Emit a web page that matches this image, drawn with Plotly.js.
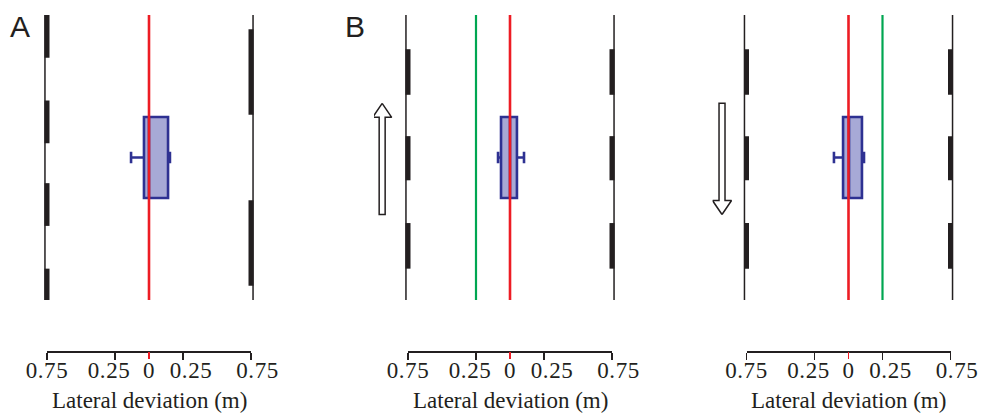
<!DOCTYPE html>
<html><head><meta charset="utf-8">
<script src="https://cdn.plot.ly/plotly-3.0.1.min.js"></script>
<style>html,body{margin:0;padding:0;background:#fff}#chart{width:996px;height:414px}
.x10tick text,.x11tick text,.x12tick text{letter-spacing:0.6px}</style>
</head><body><div id="chart"></div>
<script>
// ---- data ----
const panelLabels = ['A', 'B', ''];
const tickVals = [-0.75, -0.25, 0.25, 0.75];
const zeroTickVals = [0];
const labelPos = [-0.75, -0.294, 0, 0.309, 0.798];   // where the label texts sit (m)
const labelText = ['0.75', '0.25', '0', '0.25', '0.75'];
const axisTitle = 'Lateral deviation (m)';
const laneHalfWidth = 0.75;               // lane boundary (m)
const boxPos = [50, 50, 50];              // vertical position (arbitrary units, 0-100)
const boxLower = [-0.132, -0.088, -0.107];
const boxQ1 = [-0.037, -0.066, -0.040];
const boxMedian = [0.000, 0.000, 0.004];
const boxQ3 = [0.140, 0.051, 0.099];
const boxUpper = [0.154, 0.103, 0.114];
const redLineX = [0, 0, 0];
const greenLineX = [null, -0.25, 0.25];
const leftDashes = [
  [[85, 100], [55, 70], [26, 41], [0, 11]],
  [[72, 88], [42, 57.5], [11, 27]],
  [[72, 88], [42, 57.5], [11, 27]]
];
const rightDashes = [
  [[65, 95], [5, 35]],
  [[72, 88], [42, 57.5], [11, 27]],
  [[72, 88], [42, 57.5], [11, 27]]
];
const arrowX = [null, -0.94, -0.93];
const arrowTail = [null, 30, 69];
const arrowTip = [null, 69, 30];

// ---- layout geometry ----
const W = 996, H = 414;
const zeroPx = [149, 510, 848.5];
const pxPerM = 136;
const dark = '#231f20';
const serif = 'Liberation Serif, Times New Roman, serif';

const traces = [];
const layout = {
  width: W, height: H,
  margin: {l: 0, r: 0, t: 15, b: 63},
  paper_bgcolor: '#fff', plot_bgcolor: 'rgba(0,0,0,0)',
  showlegend: false,
  yaxis: {domain: [51 / 336, 1], range: [0, 100], visible: false, fixedrange: true},
  annotations: []
};

function segs(list, x) {
  const xs = [], ys = [];
  list.forEach(s => { xs.push(x, x, null); ys.push(s[0], s[1], null); });
  return {xs, ys};
}

for (let p = 0; p < 3; p++) {
  const dataAx = p + 1, tickAx = p + 4, zeroAx = p + 7, labAx = p + 10;
  const z = zeroPx[p];
  const xa = dataAx === 1 ? 'x' : 'x' + dataAx;
  const dataDomain = [(z - pxPerM) / W, (z + pxPerM) / W];
  layout['xaxis' + (dataAx === 1 ? '' : dataAx)] = {
    domain: dataDomain, range: [-1, 1], visible: false, anchor: 'y', fixedrange: true
  };
  const common = {
    anchor: 'free', position: 0, showgrid: false, zeroline: false,
    ticks: 'outside', ticklen: 7, tickwidth: 1.5, tickmode: 'array', fixedrange: true
  };
  const tickDomain = [(z - 0.75 * pxPerM) / W, (z + 0.75 * pxPerM) / W];
  layout['xaxis' + tickAx] = Object.assign({}, common, {
    domain: tickDomain, range: [-0.75, 0.75],
    showline: true, linecolor: dark, linewidth: 1.5, tickcolor: dark,
    tickvals: tickVals, showticklabels: false
  });
  layout['xaxis' + zeroAx] = Object.assign({}, common, {
    domain: tickDomain, range: [-0.75, 0.75], overlaying: 'x' + tickAx,
    showline: false, tickcolor: '#ed1c24', tickvals: zeroTickVals, showticklabels: false
  });
  layout['xaxis' + labAx] = Object.assign({}, common, {
    domain: dataDomain, range: [-1, 1], showline: false, tickcolor: 'rgba(0,0,0,0)',
    tickvals: labelPos, ticktext: labelText, ticklabelstandoff: -9,
    tickfont: {family: serif, size: 23, color: dark}
  });
  // invisible traces to register the axis-only subplots
  [tickAx, zeroAx, labAx].forEach(a => traces.push({
    type: 'scatter', mode: 'markers', x: [0], y: [-50], xaxis: 'x' + a, yaxis: 'y',
    marker: {opacity: 0}, hoverinfo: 'skip'
  }));

  // thin lane boundaries
  [-1, 1].forEach(sg => traces.push({
    type: 'scatter', mode: 'lines', xaxis: xa, yaxis: 'y',
    x: [sg * (laneHalfWidth + 0.015), sg * (laneHalfWidth + 0.015)], y: [0, 100],
    line: {color: dark, width: 1.5}, hoverinfo: 'skip'
  }));
  // thick dashes
  [[leftDashes[p], -1], [rightDashes[p], 1]].forEach(([list, sg]) => {
    const s = segs(list, sg * laneHalfWidth);
    traces.push({type: 'scatter', mode: 'lines', xaxis: xa, yaxis: 'y', x: s.xs, y: s.ys,
      line: {color: dark, width: 5}, hoverinfo: 'skip'});
  });
  // green line
  if (greenLineX[p] !== null) traces.push({
    type: 'scatter', mode: 'lines', xaxis: xa, yaxis: 'y',
    x: [greenLineX[p], greenLineX[p]], y: [0, 100],
    line: {color: '#00a651', width: 2.2}, hoverinfo: 'skip'
  });
  // red line
  traces.push({
    type: 'scatter', mode: 'lines', xaxis: xa, yaxis: 'y',
    x: [redLineX[p], redLineX[p]], y: [0, 100],
    line: {color: '#ed1c24', width: 2.6}, hoverinfo: 'skip'
  });
  // box
  traces.push({
    type: 'box', orientation: 'h', xaxis: xa, yaxis: 'y',
    y: [boxPos[p]], q1: [boxQ1[p]], median: [boxMedian[p]], q3: [boxQ3[p]],
    lowerfence: [boxLower[p]], upperfence: [boxUpper[p]],
    width: 28.4, whiskerwidth: 0.14, boxpoints: false,
    fillcolor: '#a7a9d6', line: {color: '#2e3192', width: 2.6}, hoverinfo: 'skip'
  });
  // arrow
  if (arrowX[p] !== null) {
    const x = arrowX[p], tip = arrowTip[p], tail = arrowTail[p];
    const dir = Math.sign(tip - tail), hw = 0.07, sw = 0.022, hl = 4.9;
    const base = tip - dir * hl;
    traces.push({
      type: 'scatter', mode: 'lines', xaxis: xa, yaxis: 'y', fill: 'toself', fillcolor: '#fff',
      x: [x, x + hw, x + sw, x + sw, x - sw, x - sw, x - hw, x],
      y: [tip, base, base, tail, tail, base, base, tip],
      line: {color: dark, width: 1.5}, hoverinfo: 'skip'
    });
  }
  // axis title (as annotation so it can sit at the very bottom)
  layout.annotations.push({
    text: axisTitle, showarrow: false, xref: 'paper', yref: 'paper',
    x: z / W, y: (351 - 414) / 336, xanchor: 'center', yanchor: 'bottom', borderpad: 0,
    font: {family: serif, size: 23, color: dark}
  });
  if (panelLabels[p]) layout.annotations.push({
    text: panelLabels[p], showarrow: false, xref: 'paper', yref: 'paper',
    x: (p === 0 ? 9 : 344) / W, y: 1.018, xanchor: 'left', yanchor: 'top', borderpad: 0,
    font: {family: 'Liberation Sans, Arial, sans-serif', size: 30, color: dark}
  });
}

Plotly.newPlot('chart', traces, layout, {staticPlot: true, displayModeBar: false});
</script></body></html>
